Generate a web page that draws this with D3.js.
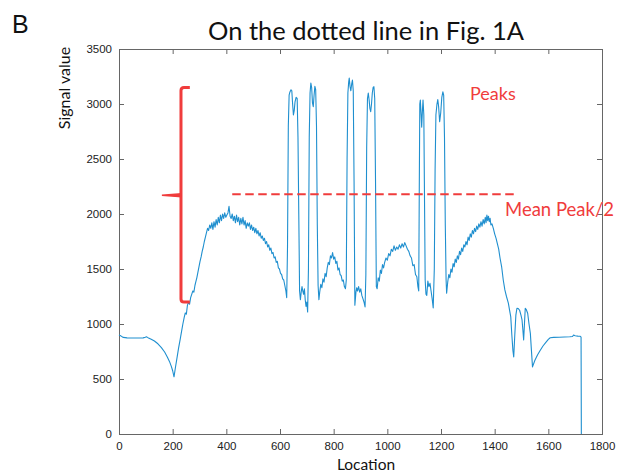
<!DOCTYPE html>
<html>
<head>
<meta charset="utf-8">
<script src="https://cdn.jsdelivr.net/npm/d3@7"></script>
<style>
  body { margin: 0; background: #fff; }
  .tick text { font-family: "Liberation Sans", Arial, sans-serif; font-size: 11.5px; fill: #222; }
  .tick line { stroke: #666; }
</style>
</head>
<body>
<script>
// signal profile along the dotted line: [location, signal value]
var profile = [
  [0,900],[8,890],[16,878],[30,874],[50,873],[70,873],[90,874],[98,880],[102,884],[108,876],
  [120,862],[132,845],[145,820],[158,785],[170,745],[180,700],[188,660],[195,615],[200,575],[205,520],
  [210,600],[216,690],[222,780],[228,860],[233,930],[238,1000],[243,1060],[247,1100],[251,1090],[255,1170],
  [259,1200],[263,1180],[267,1240],[271,1270],[275,1300],[279,1290],[283,1350],
  [286,1380],[290,1420],[294,1470],[298,1520],[302,1570],[306,1610],[310,1660],[314,1700],[318,1750],
  [322,1790],[326,1830],[330,1870],[334,1850],[338,1900],[342,1870],[346,1920],[350,1860],[354,1930],
  [358,1880],[362,1950],[366,1900],[370,1970],[374,1920],[378,1990],[382,1940],[386,2000],[390,1960],
  [394,2010],[398,1970],[402,1990],[406,2010],[410,2070],[414,1980],[418,1960],[422,2000],[426,1940],
  [430,1980],[434,1920],[438,1990],[442,1930],[446,1970],[450,1900],[454,1960],[458,1910],[462,1970],
  [466,1900],[470,1940],[474,1870],[478,1920],[482,1890],[486,1920],[490,1860],[494,1900],[498,1850],
  [502,1880],[506,1830],[510,1870],[514,1820],[518,1850],[522,1800],[526,1830],[530,1780],[534,1800],
  [538,1760],[542,1780],[546,1730],[550,1750],[554,1700],[558,1720],[562,1670],[566,1690],[570,1640],
  [574,1650],[578,1600],[582,1610],[586,1560],[590,1570],[594,1510],[598,1500],[602,1460],[606,1450],
  [610,1410],[614,1400],[618,1350],[622,1300],[625,1240],
  [628,1700],[631,2800],[634,3080],[637,3110],[641,3130],[644,3120],[647,3000],[650,2900],[653,2940],
  [656,3020],[660,3060],[664,3050],[667,2700],[670,2000],[673,1300],[676,1220],[679,1290],[682,1340],
  [685,1300],[688,1270],[691,1320],[694,1220],[697,1160],[700,1200],[703,1110],[706,1500],[709,2700],
  [712,3100],[715,3190],[718,3150],[721,3010],[724,2975],[727,3080],[730,3160],[733,3130],[736,2800],
  [739,1900],[742,1350],[745,1220],[748,1290],[752,1360],[756,1330],[760,1410],[764,1380],[768,1460],
  [772,1430],[776,1510],[780,1560],[784,1540],[788,1620],[792,1600],[796,1650],[800,1590],[804,1610],
  [808,1550],[812,1570],[816,1490],[820,1510],[824,1450],[828,1440],[832,1390],[836,1400],[840,1340],
  [844,1320],
  [847,1400],[850,2500],[853,3100],[856,3200],[858,3236],[861,3160],[864,3120],[867,3180],[870,3218],
  [873,3120],[876,2300],[879,1170],[883,1290],[886,1330],[889,1300],[893,1340],[897,1290],[901,1320],
  [905,1260],[909,1230],[913,1200],[917,1155],[920,1450],[923,2600],[926,3050],[929,3100],[932,3040],
  [935,2960],[938,2930],[941,3000],[944,3100],[947,3150],[950,3157],[953,3050],[956,2300],[959,1340],
  [962,1320],[966,1420],[970,1390],[974,1490],[978,1460],[982,1540],[986,1510],[990,1560],[995,1600],
  [1000,1580],[1005,1640],[1010,1620],[1015,1680],[1020,1660],[1025,1710],[1030,1670],[1035,1700],
  [1040,1680],[1045,1720],[1050,1690],[1055,1730],[1060,1700],[1065,1740],[1070,1710],[1075,1680],
  [1080,1660],[1085,1620],[1090,1600],[1095,1530],[1100,1540],[1105,1450],[1110,1430],[1114,1340],
  [1117,1300],
  [1119,2200],[1121,3000],[1123,3036],[1126,2900],[1128,2790],[1131,2950],[1133,3036],[1136,2900],
  [1138,2300],[1141,1400],[1144,1270],[1147,1260],[1151,1390],[1155,1340],[1159,1370],[1163,1300],
  [1167,1230],[1171,1145],[1175,1500],[1178,2400],[1181,2900],[1185,3000],[1188,3040],[1191,2980],
  [1195,2840],[1199,2920],[1203,3060],[1207,3110],[1210,3080],[1213,2700],[1216,1900],[1219,1400],
  [1221,1280],
  [1225,1380],[1229,1450],[1233,1420],[1237,1500],[1241,1470],[1245,1550],[1249,1520],[1253,1590],
  [1257,1560],[1261,1620],[1265,1590],[1269,1660],[1273,1630],[1277,1690],[1281,1660],[1285,1720],
  [1289,1700],[1293,1750],[1297,1720],[1301,1790],[1305,1760],[1309,1820],[1313,1790],[1317,1850],
  [1321,1820],[1325,1870],[1329,1840],[1333,1890],[1337,1860],[1341,1910],[1345,1880],[1349,1930],
  [1353,1890],[1357,1950],[1361,1910],[1365,1970],[1368,1920],[1371,1990],[1374,1940],[1377,1980],
  [1380,1930],[1383,1960],[1386,1900],[1390,1910],[1395,1870],[1400,1820],[1405,1780],[1410,1730],
  [1415,1680],[1420,1600],[1426,1520],[1432,1400],[1438,1310],[1444,1250],[1451,1190],[1456,1120],
  [1460,1065],
  [1464,900],[1468,760],[1471,700],[1475,900],[1479,1080],[1483,1143],[1488,1140],[1493,1125],
  [1498,1080],[1502,1037],[1505,950],[1508,854],[1511,1000],[1514,1143],[1518,1130],[1523,1098],
  [1528,1000],[1533,915],[1537,760],[1541,610],[1550,670],[1560,720],[1570,762],[1580,800],
  [1590,830],[1600,860],[1607,875],[1620,878],[1640,880],[1660,882],[1680,884],[1690,886],
  [1694,899],[1700,893],[1710,890],[1719,888],[1722,880],[1723,0]
];

var xTicks = [0, 200, 400, 600, 800, 1000, 1200, 1400, 1600, 1800];
var yTicks = [0, 500, 1000, 1500, 2000, 2500, 3000, 3500];

// annotation values (data units)
var meanPeakHalf = 2180;
var meanLineExtent = [422, 1487];
var bracketLoc = [160, 231, 264];      // left tip, spine, serif end
var bracketVals = [1200, 2170, 3150];  // bottom, middle, top

var width = 627, height = 475;
var svg = d3.select("body").append("svg")
  .attr("width", width)
  .attr("height", height);

var x = d3.scaleLinear().domain([0, 1800]).range([119, 602]);
var y = d3.scaleLinear().domain([0, 3500]).range([434, 49]);

//panel letter and title
svg.append("text")
  .attr("x", 12).attr("y", 33)
  .style("font-family", "Liberation Sans, Arial, sans-serif")
  .style("font-size", "25px")
  .attr("fill", "#111")
  .text("B");

svg.append("text")
  .attr("x", 366).attr("y", 40)
  .attr("text-anchor", "middle")
  .style("font-family", "Lato, sans-serif")
  .style("font-size", "25.5px")
  .attr("fill", "#111")
  .text("On the dotted line in Fig. 1A");

//axes, ticks pointing inward on all four sides
var fmt = d3.format("d");

svg.append("g")
  .attr("transform", "translate(0," + y(0) + ")")
  .call(d3.axisBottom(x).tickValues(xTicks).tickSizeInner(-5).tickSizeOuter(0).tickPadding(8).tickFormat(fmt))
  .call(function (g) { g.select(".domain").remove(); });

svg.append("g")
  .attr("transform", "translate(0," + y(3500) + ")")
  .call(d3.axisTop(x).tickValues(xTicks).tickSizeInner(-5).tickSizeOuter(0).tickFormat(""))
  .call(function (g) { g.select(".domain").remove(); });

svg.append("g")
  .attr("transform", "translate(" + x(0) + ",0)")
  .call(d3.axisLeft(y).tickValues(yTicks).tickSizeInner(-5).tickSizeOuter(0).tickPadding(7).tickFormat(fmt))
  .call(function (g) { g.select(".domain").remove(); });

svg.append("g")
  .attr("transform", "translate(" + x(1800) + ",0)")
  .call(d3.axisRight(y).tickValues(yTicks).tickSizeInner(-5).tickSizeOuter(0).tickFormat(""))
  .call(function (g) { g.select(".domain").remove(); });

svg.append("rect")
  .attr("x", x(0) + 0.5).attr("y", y(3500) + 0.5)
  .attr("width", x(1800) - x(0)).attr("height", y(0) - y(3500))
  .attr("fill", "none")
  .attr("stroke", "#666")
  .attr("stroke-width", 1);

//axis titles
svg.append("text")
  .attr("x", 366).attr("y", 470)
  .attr("text-anchor", "middle")
  .style("font-family", "Lato, sans-serif")
  .style("font-size", "15.5px")
  .attr("fill", "#111")
  .text("Location");

svg.append("text")
  .attr("transform", "translate(70,88) rotate(-90)")
  .attr("text-anchor", "middle")
  .style("font-family", "Lato, sans-serif")
  .style("font-size", "16px")
  .attr("fill", "#111")
  .text("Signal value");

//signal trace
var line = d3.line()
  .x(function (d) { return x(d[0]); })
  .y(function (d) { return y(d[1]); });

svg.append("path")
  .datum(profile)
  .attr("d", line)
  .attr("fill", "none")
  .attr("stroke", "#1f8fcf")
  .attr("stroke-width", 1.1)
  .attr("stroke-linejoin", "round");

//annotations
var red = "#f03c3c";

svg.append("line")
  .attr("x1", x(meanLineExtent[0])).attr("x2", x(meanLineExtent[1]))
  .attr("y1", y(meanPeakHalf)).attr("y2", y(meanPeakHalf))
  .attr("stroke", red)
  .attr("stroke-width", 2)
  .attr("stroke-dasharray", "8.5,4.5");

// bracket spanning the peak range
var bx0 = x(bracketLoc[0]), bx1 = x(bracketLoc[1]), bx2 = x(bracketLoc[2]);
var bBot = y(bracketVals[0]), bMid = y(bracketVals[1]), bTop = y(bracketVals[2]);
var p = d3.path();
p.moveTo(bx2, bTop);
p.lineTo(bx1 + 3, bTop);
p.quadraticCurveTo(bx1, bTop, bx1, bTop + 3);
p.lineTo(bx1, bBot - 3);
p.quadraticCurveTo(bx1, bBot, bx1 + 3, bBot);
p.lineTo(bx2, bBot);
svg.append("path")
  .attr("d", p.toString())
  .attr("fill", "none")
  .attr("stroke", red)
  .attr("stroke-width", 3);

svg.append("path")
  .attr("d", "M" + bx0 + "," + bMid + "L" + bx1 + "," + (bMid - 1.5) + "L" + bx1 + "," + (bMid + 1.5) + "Z")
  .attr("fill", red)
  .attr("stroke", red)
  .attr("stroke-width", 1.5);

svg.append("text")
  .attr("x", 470).attr("y", 100)
  .style("font-family", "Lato, sans-serif")
  .style("font-size", "18px")
  .attr("fill", red)
  .text("Peaks");

svg.append("text")
  .attr("x", 505).attr("y", 216)
  .style("font-family", "Lato, sans-serif")
  .style("font-size", "18.5px")
  .attr("fill", red)
  .text("Mean Peak/2");
</script>
</body>
</html>
